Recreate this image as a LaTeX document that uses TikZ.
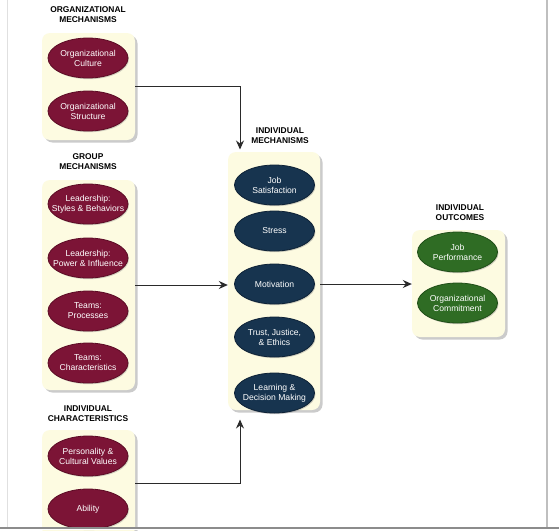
\documentclass[tikz,border=0pt]{standalone}
\usepackage{fontspec}
\setmainfont{Liberation Sans}
\usetikzlibrary{shapes.geometric,arrows.meta,shadows}
\definecolor{panelfill}{HTML}{FDFBE1}
\definecolor{maroon}{HTML}{7C1436}
\definecolor{maroonb}{HTML}{5C0C25}
\definecolor{navy}{HTML}{17344F}
\definecolor{navyb}{HTML}{0E2236}
\definecolor{leaf}{HTML}{2F6C24}
\definecolor{leafb}{HTML}{1F4D17}
\definecolor{connc}{HTML}{2A2A2A}
\tikzset{
  panel/.style={rectangle, rounded corners=8pt, fill=panelfill, draw=none,
    minimum width=93pt, inner sep=0pt,
    drop shadow={shadow xshift=2.5pt, shadow yshift=-2.5pt, fill=black!45, opacity=.45}},
  oval/.style={ellipse, minimum width=80pt, minimum height=40pt,
    inner xsep=-12pt, inner ysep=0pt,
    align=center, text=white, line width=0.8pt,
    font=\fontsize{8.6}{10}\selectfont,
    drop shadow={shadow xshift=1pt, shadow yshift=-1.2pt, fill=black!50, opacity=.35}},
  redoval/.style={oval, fill=maroon, draw=maroonb},
  blueoval/.style={oval, fill=navy, draw=navyb},
  greenoval/.style={oval, fill=leaf, draw=leafb},
  grouptitle/.style={align=center, font=\bfseries\fontsize{8.4}{10}\selectfont, inner sep=0pt},
  conn/.style={draw=connc, line width=1pt, -{Stealth[length=9pt,width=8pt,inset=3pt]}}
}
\begin{document}
\begin{tikzpicture}[x=1pt,y=-1pt]
\useasboundingbox (0,0) rectangle (559,530);
\clip (0,0) rectangle (559,530);
\fill[white] (0,0) rectangle (559,530);

% titles
\node[grouptitle] (t1) at (88,15) {ORGANIZATIONAL\\MECHANISMS};
\node[grouptitle] (t2) at (88,162) {GROUP\\MECHANISMS};
\node[grouptitle] (t3) at (88,414) {INDIVIDUAL\\CHARACTERISTICS};
\node[grouptitle] (t4) at (280,135.5) {INDIVIDUAL\\MECHANISMS};
\node[grouptitle] (t5) at (460,213) {INDIVIDUAL\\OUTCOMES};

% panels
\node[panel, minimum height=107pt] (org) at (88.5,86.5) {};
\node[panel, minimum height=210pt] (grp) at (88.5,285) {};
\node[panel, minimum height=106pt] (ic) at (88.5,483) {};
\node[panel, minimum width=92pt, minimum height=258pt] (im) at (274,281) {};
\node[panel, minimum height=107pt] (out) at (458.5,283.5) {};

% ellipses
\node[redoval] (culture) at (88,58) {Organizational\\Culture};
\node[redoval] (structure) at (88,111) {Organizational\\Structure};
\node[redoval] (lsb) at (88,204) {Leadership:\\Styles \& Behaviors};
\node[redoval] (lpi) at (88,258) {Leadership:\\Power \& Influence};
\node[redoval] (tp) at (88,311) {Teams:\\Processes};
\node[redoval] (tc) at (88,363) {Teams:\\Characteristics};
\node[redoval] (pcv) at (88,456) {Personality \&\\Cultural Values};
\node[redoval] (abil) at (88,509) {Ability};

\node[blueoval] (js) at (274.5,185) {Job\\Satisfaction};
\node[blueoval] (stress) at (274.5,231) {Stress};
\node[blueoval] (mot) at (274.5,284) {Motivation};
\node[blueoval] (tje) at (274.5,337) {Trust, Justice,\\\& Ethics};
\node[blueoval] (ldm) at (274.5,393) {Learning \&\\Decision Making};

\node[greenoval] (jp) at (457.5,252) {Job\\Performance};
\node[greenoval] (oc) at (457.5,303) {Organizational\\Commitment};

% connectors
\coordinate (imtop) at (240,149.5);
\coordinate (imbot) at (240,419.5);
\draw[conn] (org.east) -| (imtop);
\draw[conn] (grp.east) -- (grp.east -| im.west);
\draw[conn] (ic.east) -| (imbot);
\draw[conn] (mot -| im.east) -- (mot -| out.west);

% frame lines
\draw[color=black!12, line width=1pt] (7,0) -- (7,527);
\draw[color=black!25, line width=2pt] (547,0) -- (547,527);
\fill[white] (0,528.7) rectangle (559,530);
\draw[color=black!45, line width=1.5pt] (0,528) -- (559,528);
\end{tikzpicture}
\end{document}
